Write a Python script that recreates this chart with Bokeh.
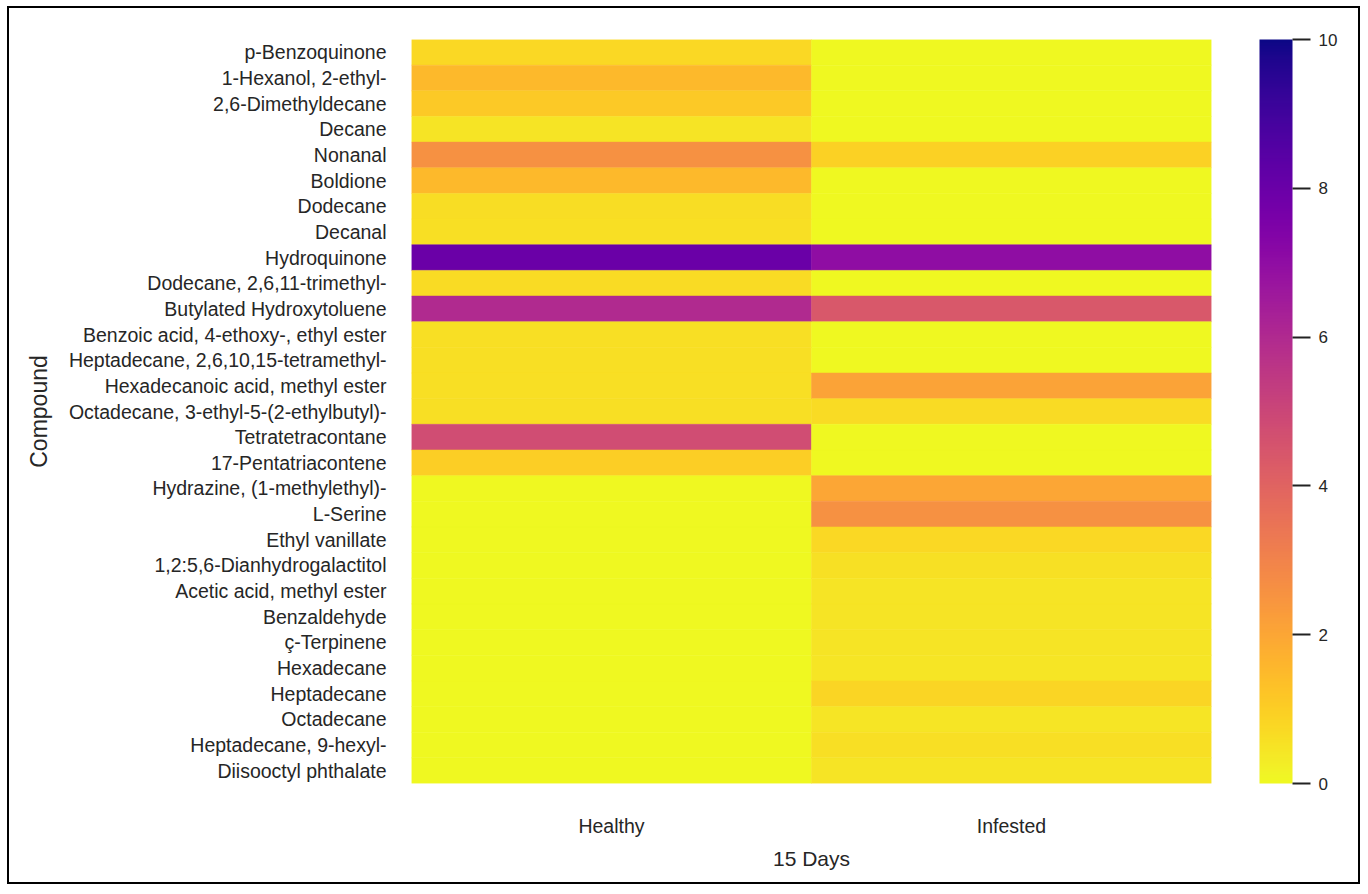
from bokeh.plotting import figure
from bokeh.models import (ColumnDataSource, LinearColorMapper, ColorBar, FixedTicker, FactorRange)
from bokeh.palettes import Plasma256
from bokeh.transform import transform
from bokeh.embed import file_html
from bokeh.resources import INLINE

compounds = [
    "p-Benzoquinone", "1-Hexanol, 2-ethyl-", "2,6-Dimethyldecane", "Decane", "Nonanal",
    "Boldione", "Dodecane", "Decanal", "Hydroquinone", "Dodecane, 2,6,11-trimethyl-",
    "Butylated Hydroxytoluene", "Benzoic acid, 4-ethoxy-, ethyl ester",
    "Heptadecane, 2,6,10,15-tetramethyl-", "Hexadecanoic acid, methyl ester",
    "Octadecane, 3-ethyl-5-(2-ethylbutyl)-", "Tetratetracontane", "17-Pentatriacontene",
    "Hydrazine, (1-methylethyl)-", "L-Serine", "Ethyl vanillate",
    "1,2:5,6-Dianhydrogalactitol", "Acetic acid, methyl ester", "Benzaldehyde",
    "ç-Terpinene", "Hexadecane", "Heptadecane", "Octadecane", "Heptadecane, 9-hexyl-",
    "Diisooctyl phthalate",
]
groups = ["Healthy", "Infested"]
healthy = [0.75, 1.5, 1.1, 0.5, 2.6, 1.5, 0.65, 0.6, 8.0, 0.7, 6.0, 0.6, 0.6, 0.6, 0.6,
           4.8, 1.0, 0.0, 0.0, 0.0, 0.0, 0.0, 0.0, 0.0, 0.0, 0.0, 0.0, 0.0, 0.0]
infested = [0.0, 0.0, 0.0, 0.0, 0.9, 0.0, 0.0, 0.0, 7.0, 0.0, 4.4, 0.0, 0.0, 2.1, 0.7,
            0.0, 0.0, 2.0, 2.6, 0.75, 0.55, 0.5, 0.5, 0.5, 0.45, 0.85, 0.45, 0.6, 0.5]
cbar_ticks = [0, 2, 4, 6, 8, 10]

xs, ys, vals = [], [], []
for g, series in zip(groups, [healthy, infested]):
    for c, v in zip(compounds, series):
        xs.append(g)
        ys.append(c)
        vals.append(v)
src = ColumnDataSource(dict(x=xs, y=ys, v=vals))

mapper = LinearColorMapper(palette=list(reversed(Plasma256)), low=0, high=10)

p = figure(width=1353, height=878, output_backend="svg", toolbar_location=None,
           x_range=FactorRange(*groups), y_range=FactorRange(*reversed(compounds)),
           min_border_left=402, min_border_top=31, min_border_bottom=103, min_border_right=151)
p.styles = {"border": "2px solid black", "margin-left": "7px", "margin-top": "6px"}

p.rect(x="x", y="y", width=1, height=1, source=src,
       fill_color=transform("v", mapper), line_color=transform("v", mapper), line_width=0.5)

font = "Liberation Sans"
for ax in (p.xaxis[0], p.yaxis[0]):
    ax.axis_line_color = None
    ax.major_tick_line_color = None
    ax.minor_tick_line_color = None
    ax.major_label_text_font = font
    ax.major_label_text_font_size = "19.5px"
    ax.major_label_text_color = "#262626"
    ax.axis_label_text_font = font
    ax.axis_label_text_font_style = "normal"
    ax.axis_label_text_color = "#262626"
p.xaxis.axis_label_text_font_size = "21px"
p.yaxis.axis_label_text_font_size = "23px"
p.yaxis.major_label_standoff = 19
p.xaxis.major_label_standoff = 25
p.xaxis.axis_label = "15 Days"
p.yaxis.axis_label = "Compound"
p.xaxis.axis_label_standoff = 7
p.yaxis.axis_label_standoff = 14
p.xgrid.grid_line_color = None
p.ygrid.grid_line_color = None
p.outline_line_color = None

cb = ColorBar(color_mapper=mapper, ticker=FixedTicker(ticks=cbar_ticks),
              width=33, height=744, padding=0, location=(48, 0),
              bar_line_color=None, major_tick_in=0, major_tick_out=18,
              major_tick_line_color="#222222", major_tick_line_width=2,
              minor_tick_line_color=None, label_standoff=8,
              major_label_text_font=font, major_label_text_font_size="17px",
              major_label_text_color="#262626", background_fill_color=None)
p.add_layout(cb, "right")

open("out.html", "w").write(file_html(p, INLINE))
